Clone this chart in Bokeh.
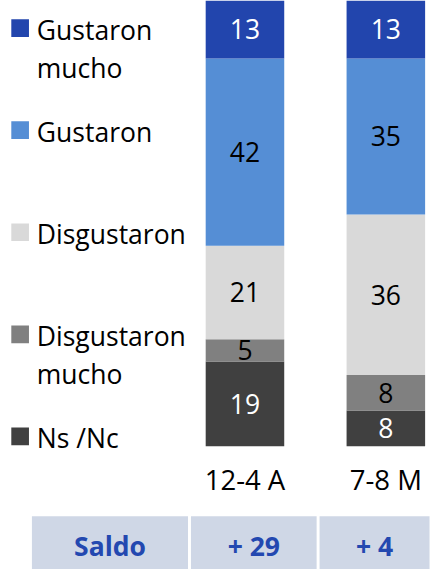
from bokeh.plotting import figure
from bokeh.models import ColumnDataSource, Range1d
from bokeh.embed import file_html
from bokeh.resources import INLINE
from bokeh.core.properties import value

# ---------------- data ----------------
categories = ["12-4 A", "7-8 M"]
series_names = ["Gustaron\nmucho", "Gustaron", "Disgustaron", "Disgustaron\nmucho", "Ns /Nc"]
gustaron_mucho = [13, 13]
gustaron = [42, 35]
disgustaron = [21, 36]
disgustaron_mucho = [5, 8]
ns_nc = [19, 8]
saldo_header = "Saldo"
saldo_values = ["+ 29", "+ 4"]

# ---------------- styles ----------------
series_colors = ["#2245AD", "#558ED5", "#D9D9D9", "#808080", "#404040"]
label_colors = ["white", "black", "black", "black", "white"]
FONT = value("Open Sans")
TABLE_FILL = "#CFD7E6"
TABLE_TEXT = "#2348B0"

# ---------------- layout (reference-image pixels) ----------------
W, H = 431, 569          # figure size (fits 439x577 window with 8px margin)
REF_W, REF_H = 439, 577  # design space
BAR_C0, BAR_STEP, BAR_W = 249.0, 143.5, 80.0
BASE_Y, PX_PER_UNIT = 452.0, 4.52
SCALE = W / REF_W


def dx(sx):
    return (sx - BAR_C0) / BAR_STEP


def dy(sy):
    return (BASE_Y - sy) / PX_PER_UNIT


def fs(px):
    return "%.1fpx" % (px * SCALE)


p = figure(width=W, height=H, output_backend="svg", toolbar_location=None,
           x_range=Range1d(dx(0), dx(REF_W)),
           y_range=Range1d(dy(REF_H), dy(0)),
           x_axis_location=None, y_axis_location=None,
           min_border=0, outline_line_color=None)
p.grid.visible = False
p.background_fill_color = "white"
p.border_fill_color = "white"

# stacked bars (bottom to top)
stack_order = [ns_nc, disgustaron_mucho, disgustaron, gustaron, gustaron_mucho]
stack_colors = series_colors[::-1]
stack_label_colors = label_colors[::-1]
keys = ["s%d" % i for i in range(len(stack_order))]
data = {"x": list(range(len(categories)))}
for k, vals in zip(keys, stack_order):
    data[k] = vals
src = ColumnDataSource(data)
p.vbar_stack(keys, x="x", width=BAR_W / BAR_STEP, color=stack_colors,
             line_color=None, source=src)

# value labels
lx, ly, lt, lc = [], [], [], []
bottoms = [0] * len(categories)
for vals, col in zip(stack_order, stack_label_colors):
    for i, v in enumerate(vals):
        lx.append(i)
        ly.append(bottoms[i] + v / 2)
        lt.append(str(v))
        lc.append(col)
        bottoms[i] += v
p.text(x=lx, y=ly, text=lt, text_color=lc, text_font=FONT,
       text_font_size=fs(27), text_align="center", text_baseline="middle")

# category labels
p.text(x=list(range(len(categories))), y=[dy(486)] * len(categories), text=categories,
       text_font=FONT, text_font_size=fs(28), text_color="black",
       text_align="center", text_baseline="middle")

# legend (manual)
LEG_Y0, LEG_STEP, LEG_LINE = 28.0, 103.5, 38.0
sq_x, sq_y = [], []
tx, ty, tt = [], [], []
for j, name in enumerate(series_names):
    cy = LEG_Y0 + j * LEG_STEP
    sq_x.append(dx(20))
    sq_y.append(dy(cy))
    for k, line in enumerate(name.split("\n")):
        tx.append(dx(37))
        ty.append(dy(cy + 2 + k * LEG_LINE))
        tt.append(line)
p.scatter(x=sq_x, y=sq_y, marker="square", size=18 * SCALE, color=series_colors,
          line_color=None)
p.text(x=tx, y=ty, text=tt, text_font=FONT, text_font_size=fs(27),
       text_color="black", text_align="left", text_baseline="middle")

# saldo table
cell_left = [32, 194, 325]
cell_right = [191, 322, 437]
cell_top, cell_bottom = 523, 600
p.quad(left=[dx(v) for v in cell_left], right=[dx(v) for v in cell_right],
       top=[dy(cell_top)] * 3, bottom=[dy(cell_bottom)] * 3,
       fill_color=TABLE_FILL, line_color=None)
cell_text = [saldo_header] + saldo_values
p.text(x=[dx((a + b) / 2) for a, b in zip(cell_left, cell_right)], y=[dy(553)] * 3,
       text=cell_text, text_font=FONT, text_font_size=fs(27), text_font_style="bold",
       text_color=TABLE_TEXT, text_align="center", text_baseline="middle")

open("out.html", "w").write(file_html(p, INLINE))
